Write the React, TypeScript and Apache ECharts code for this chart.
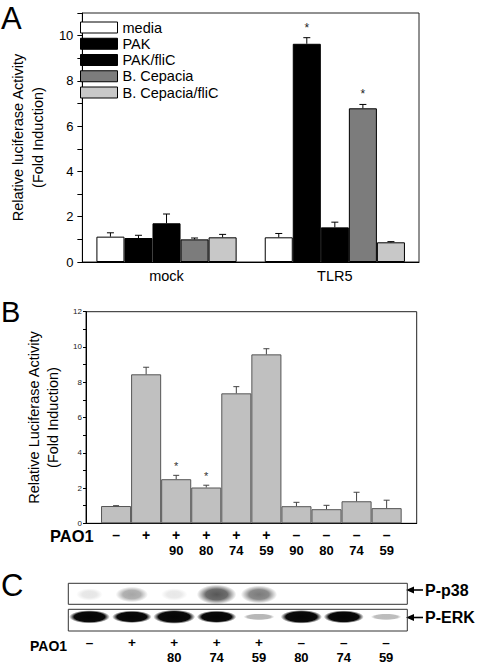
import React, { useEffect, useRef } from 'react';
import * as echarts from 'echarts';

const FONT = '"Liberation Sans", Arial, Helvetica, sans-serif';

// ---------- Panel A ----------
const groupsA = ['mock', 'TLR5'];
const namesA = ['media', 'PAK', 'PAK/fliC', 'B. Cepacia', 'B. Cepacia/fliC'];
const mediaA = [1.12, 1.09];
const pakA = [1.06, 9.64];
const pakFliCA = [1.71, 1.53];
const bCepaciaA = [1.0, 6.79];
const bCepaciaFliCA = [1.09, 0.87];
const mediaErrA = [0.17, 0.17];
const pakErrA = [0.12, 0.27];
const pakFliCErrA = [0.41, 0.23];
const bCepaciaErrA = [0.06, 0.17];
const bCepaciaFliCErrA = [0.13, 0.03];
const mediaSigA = [0, 0];
const pakSigA = [0, 1];
const pakFliCSigA = [0, 0];
const bCepaciaSigA = [0, 1];
const bCepaciaFliCSigA = [0, 0];
const yLabelsA = [0, 2, 4, 6, 8, 10];

// ---------- Panel B ----------
const signsB = ['–', '+', '+', '+', '+', '+', '–', '–', '–', '–'];
const numsB = ['', '', '90', '80', '74', '59', '90', '80', '74', '59'];
const valuesB = [0.98, 8.45, 2.5, 2.03, 7.37, 9.58, 0.97, 0.8, 1.25, 0.86];
const errB = [0.02, 0.4, 0.22, 0.13, 0.38, 0.32, 0.22, 0.22, 0.51, 0.45];
const sigB = [0, 0, 1, 1, 0, 0, 0, 0, 0, 0];
const yLabelsB = [0, 2, 4, 6, 8, 10, 12];

// ---------- Panel C ----------
const signsC = ['–', '+', '+', '+', '+', '–', '–', '–'];
const numsC = ['', '', '80', '74', '59', '80', '74', '59'];
const rowsC = ['P-p38', 'P-ERK'];
const p38C = [0.04, 0.4, 0.03, 0.85, 0.65, 0, 0, 0];
const erkC = [0.9, 0.8, 1.0, 0.8, 0.08, 0.95, 0.85, 0.06];

const valuesA = [mediaA, pakA, pakFliCA, bCepaciaA, bCepaciaFliCA];
const errsA = [mediaErrA, pakErrA, pakFliCErrA, bCepaciaErrA, bCepaciaFliCErrA];
const sigsA = [mediaSigA, pakSigA, pakFliCSigA, bCepaciaSigA, bCepaciaFliCSigA];
const colorsA = ['#ffffff', '#000000', '#000000', '#7c7c7c', '#c8c8c8'];
const GAP_A = 0.167;

function buildOption(): any {
  const errDataA: number[][] = [];
  valuesA.forEach((vals, k) => {
    vals.forEach((v, c) => errDataA.push([c, k, v, errsA[k][c], sigsA[k][c]]));
  });

  const barSeriesA = namesA.map((name, k) => ({
    type: 'bar',
    name,
    xAxisIndex: 0,
    yAxisIndex: 0,
    data: valuesA[k],
    barGap: '0%',
    barCategoryGap: GAP_A * 100 + '%',
    itemStyle: { color: colorsA[k], borderColor: '#000', borderWidth: 1 },
    z: 2,
  }));

  const errSeriesA = {
    type: 'custom',
    name: 'errA',
    xAxisIndex: 0,
    yAxisIndex: 0,
    z: 3,
    data: errDataA,
    renderItem: (params: any, api: any) => {
      const c = api.value(0);
      const k = api.value(1);
      const v = api.value(2);
      const e = api.value(3);
      const s = api.value(4);
      const bandW = api.size([1, 0])[0];
      const barW = (bandW * (1 - GAP_A)) / namesA.length;
      const x = api.coord([c, 0])[0] + (k - (namesA.length - 1) / 2) * barW;
      const yTop = api.coord([c, v])[1];
      const yHi = api.coord([c, v + e])[1];
      const children: any[] = [
        { type: 'line', shape: { x1: x, y1: yTop, x2: x, y2: yHi }, style: { stroke: '#000', lineWidth: 1 } },
        { type: 'line', shape: { x1: x - 3.5, y1: yHi, x2: x + 3.5, y2: yHi }, style: { stroke: '#000', lineWidth: 1 } },
      ];
      if (s) {
        children.push({
          type: 'text',
          x,
          y: yHi - 10,
          style: { text: '*', fontSize: 12, fontFamily: FONT, fill: '#222', align: 'center', verticalAlign: 'middle' },
        });
      }
      return { type: 'group', children };
    },
  };

  const barSeriesB = {
    type: 'bar',
    name: 'PAO1',
    xAxisIndex: 1,
    yAxisIndex: 1,
    data: valuesB.map((v, i) => [i, v]),
    barCategoryGap: '0%',
    itemStyle: { color: '#c0c0c0', borderColor: '#555', borderWidth: 1 },
    z: 2,
  };

  const errSeriesB = {
    type: 'custom',
    name: 'errB',
    xAxisIndex: 1,
    yAxisIndex: 1,
    z: 3,
    data: valuesB.map((v, i) => [i, v, errB[i], sigB[i]]),
    renderItem: (params: any, api: any) => {
      const i = api.value(0);
      const v = api.value(1);
      const e = api.value(2);
      const s = api.value(3);
      const x = api.coord([i, v])[0];
      const yTop = api.coord([i, v])[1];
      const yHi = api.coord([i, v + e])[1];
      const children: any[] = [
        { type: 'line', shape: { x1: x, y1: yTop, x2: x, y2: yHi }, style: { stroke: '#444', lineWidth: 1 } },
        { type: 'line', shape: { x1: x - 3, y1: yHi, x2: x + 3, y2: yHi }, style: { stroke: '#444', lineWidth: 1 } },
      ];
      if (s) {
        children.push({
          type: 'text',
          x,
          y: yHi - 9,
          style: { text: '*', fontSize: 11, fontFamily: FONT, fill: '#333', align: 'center', verticalAlign: 'middle' },
        });
      }
      return { type: 'group', children };
    },
  };

  const blotData: number[][] = [];
  p38C.forEach((v, i) => blotData.push([i, 0, v]));
  erkC.forEach((v, i) => blotData.push([i, 1, v]));

  const blotSeries = {
    type: 'custom',
    name: 'blot',
    xAxisIndex: 2,
    yAxisIndex: 2,
    data: blotData,
    renderItem: (params: any, api: any) => {
      const lane = api.value(0);
      const row = api.value(1);
      const I = api.value(2);
      if (I < 0.02) return { type: 'group', children: [] };
      const p = api.coord([lane, row]);
      let w: number, h: number, stops: any[];
      if (row === 0) {
        w = 26 + 16 * I;
        h = 12 + 9 * I;
        const a = Math.min(1, 0.1 + 0.95 * I);
        stops = [
          { offset: 0, color: `rgba(70,70,70,${a})` },
          { offset: 0.55, color: `rgba(75,75,75,${a * 0.9})` },
          { offset: 1, color: 'rgba(90,90,90,0)' },
        ];
      } else {
        w = 30 + 12 * I;
        h = 6 + 8 * I;
        const a = Math.min(1, 0.2 + 1.1 * I);
        stops = [
          { offset: 0, color: `rgba(5,5,5,${a})` },
          { offset: 0.75, color: `rgba(10,10,10,${a})` },
          { offset: 1, color: 'rgba(40,40,40,0)' },
        ];
      }
      return {
        type: 'circle',
        x: p[0],
        y: p[1],
        scaleX: w / h,
        shape: { cx: 0, cy: 0, r: h / 2 },
        style: { fill: { type: 'radial', x: 0.5, y: 0.5, r: 0.5, colorStops: stops } },
      };
    },
  };

  const richB = {
    s: { fontSize: 14, fontWeight: 'bold', fontFamily: FONT, color: '#000', lineHeight: 15.5 },
    n: { fontSize: 13, fontWeight: 'bold', fontFamily: FONT, color: '#000', lineHeight: 15.5 },
  };
  const richC = {
    s: { fontSize: 13.5, fontWeight: 'bold', fontFamily: FONT, color: '#000', lineHeight: 15 },
    n: { fontSize: 13, fontWeight: 'bold', fontFamily: FONT, color: '#000', lineHeight: 15 },
  };

  const arrow = (y: number, label: string) => [
    { type: 'line', shape: { x1: 412, y1: y, x2: 423, y2: y }, style: { stroke: '#000', lineWidth: 1.6 } },
    { type: 'polygon', shape: { points: [[406, y], [414, y - 3.5], [414, y + 3.5]] }, style: { fill: '#000' } },
    {
      type: 'text',
      x: 425,
      y,
      style: { text: label, fontSize: 16, fontWeight: 'bold', fontFamily: FONT, fill: '#000', verticalAlign: 'middle' },
    },
  ];

  return {
    animation: false,
    backgroundColor: '#fff',
    textStyle: { fontFamily: FONT },
    grid: [
      { left: 71, top: 13, width: 348, height: 249, show: true, borderColor: '#222', borderWidth: 1 },
      { left: 86, top: 311.7, width: 330.7, height: 211.6, show: true, borderColor: '#222', borderWidth: 1 },
      { left: 68.3, top: 583.3, width: 339, height: 47.7 },
    ],
    legend: {
      orient: 'vertical',
      left: 75,
      top: 15,
      itemWidth: 37,
      itemHeight: 11,
      itemGap: 1.25,
      icon: 'rect',
      selectedMode: false,
      textStyle: { fontSize: 14.5, color: '#000', fontFamily: FONT },
      data: namesA.map((n) => ({ name: n, itemStyle: { borderColor: '#000', borderWidth: 1 } })),
    },
    xAxis: [
      {
        type: 'category',
        gridIndex: 0,
        data: groupsA,
        axisLine: { lineStyle: { color: '#000' } },
        axisTick: { show: false },
        axisLabel: { fontSize: 14.5, color: '#000', margin: 6, fontFamily: FONT },
      },
      {
        type: 'value',
        gridIndex: 1,
        min: -1,
        max: 10,
        interval: 1,
        splitLine: { show: false },
        axisLine: { onZero: false, lineStyle: { color: '#000' } },
        axisTick: { show: false },
        axisLabel: {
          margin: 4,
          formatter: (v: number) => {
            const i = Math.round(v);
            if (i < 0 || i >= signsB.length) return '';
            return `{s|${signsB[i]}}\n{n|${numsB[i] || ' '}}`;
          },
          rich: richB,
        },
      },
      {
        type: 'category',
        gridIndex: 2,
        data: signsC.map((_, i) => String(i)),
        axisLine: { show: false },
        axisTick: { show: false },
        axisLabel: {
          margin: 7,
          formatter: (_v: string, idx: number) => `{s|${signsC[idx]}}\n{n|${numsC[idx] || ' '}}`,
          rich: richC,
        },
      },
    ],
    yAxis: [
      {
        type: 'value',
        gridIndex: 0,
        min: 0,
        max: 11,
        interval: 1,
        splitLine: { show: false },
        axisLine: { show: true, onZero: false, lineStyle: { color: '#000' } },
        axisTick: { show: true, length: 5, lineStyle: { color: '#000' } },
        axisLabel: {
          fontSize: 13,
          color: '#000',
          margin: 9,
          fontFamily: FONT,
          formatter: (v: number) => (yLabelsA.includes(v) ? String(v) : ''),
        },
        name: 'Relative luciferase Activity\n(Fold Induction)',
        nameLocation: 'middle',
        nameRotate: 90,
        nameGap: 23,
        nameTextStyle: { fontSize: 14.5, color: '#000', lineHeight: 20, fontFamily: FONT },
      },
      {
        type: 'value',
        gridIndex: 1,
        min: 0,
        max: 12,
        interval: 1,
        splitLine: { show: false },
        axisLine: { show: true, onZero: false, lineStyle: { color: '#000' } },
        axisTick: { show: true, length: 3, lineStyle: { color: '#000' } },
        axisLabel: {
          fontSize: 8,
          color: '#222',
          margin: 4,
          fontFamily: FONT,
          formatter: (v: number) => (yLabelsB.includes(v) ? String(v) : ''),
        },
        name: 'Relative Luciferase Activity\n(Fold Induction)',
        nameLocation: 'middle',
        nameRotate: 90,
        nameGap: 6,
        nameTextStyle: { fontSize: 14.5, color: '#000', lineHeight: 19, fontFamily: FONT },
      },
      {
        type: 'category',
        gridIndex: 2,
        data: rowsC,
        inverse: true,
        show: false,
      },
    ],
    series: [...barSeriesA, errSeriesA, barSeriesB, errSeriesB, blotSeries],
    graphic: [
      { type: 'text', x: 1, y: 2.5, style: { text: 'A', fontSize: 31, fontFamily: FONT, fill: '#000', verticalAlign: 'top' } },
      { type: 'text', x: 1, y: 312, style: { text: 'B', fontSize: 29, fontFamily: FONT, fill: '#000', verticalAlign: 'middle' } },
      { type: 'text', x: 1, y: 585, style: { text: 'C', fontSize: 31, fontFamily: FONT, fill: '#000', verticalAlign: 'middle' } },
      {
        type: 'text',
        x: 50,
        y: 536,
        style: { text: 'PAO1', fontSize: 16.5, fontWeight: 'bold', fontFamily: FONT, fill: '#000', verticalAlign: 'middle' },
      },
      {
        type: 'text',
        x: 30,
        y: 646,
        style: { text: 'PAO1', fontSize: 14, fontWeight: 'bold', fontFamily: FONT, fill: '#000', verticalAlign: 'middle' },
      },
      {
        type: 'rect',
        shape: { x: 68.3, y: 583.3, width: 339, height: 21 },
        style: { fill: 'none', stroke: '#333', lineWidth: 1 },
        z: 10,
      },
      {
        type: 'rect',
        shape: { x: 68.3, y: 609.3, width: 339, height: 21.7 },
        style: { fill: 'none', stroke: '#333', lineWidth: 1 },
        z: 10,
      },
      ...arrow(590, 'P-p38'),
      ...arrow(617.5, 'P-ERK'),
    ],
  };
}

export default function App() {
  const ref = useRef<HTMLDivElement>(null);
  useEffect(() => {
    document.body.style.margin = '0';
    const chart = echarts.init(ref.current as HTMLDivElement, null, { renderer: 'svg' });
    chart.setOption(buildOption());
    return () => chart.dispose();
  }, []);
  return (
    <div
      ref={ref}
      style={{ position: 'absolute', left: 0, top: 0, width: 480, height: 664, background: '#fff' }}
    />
  );
}
